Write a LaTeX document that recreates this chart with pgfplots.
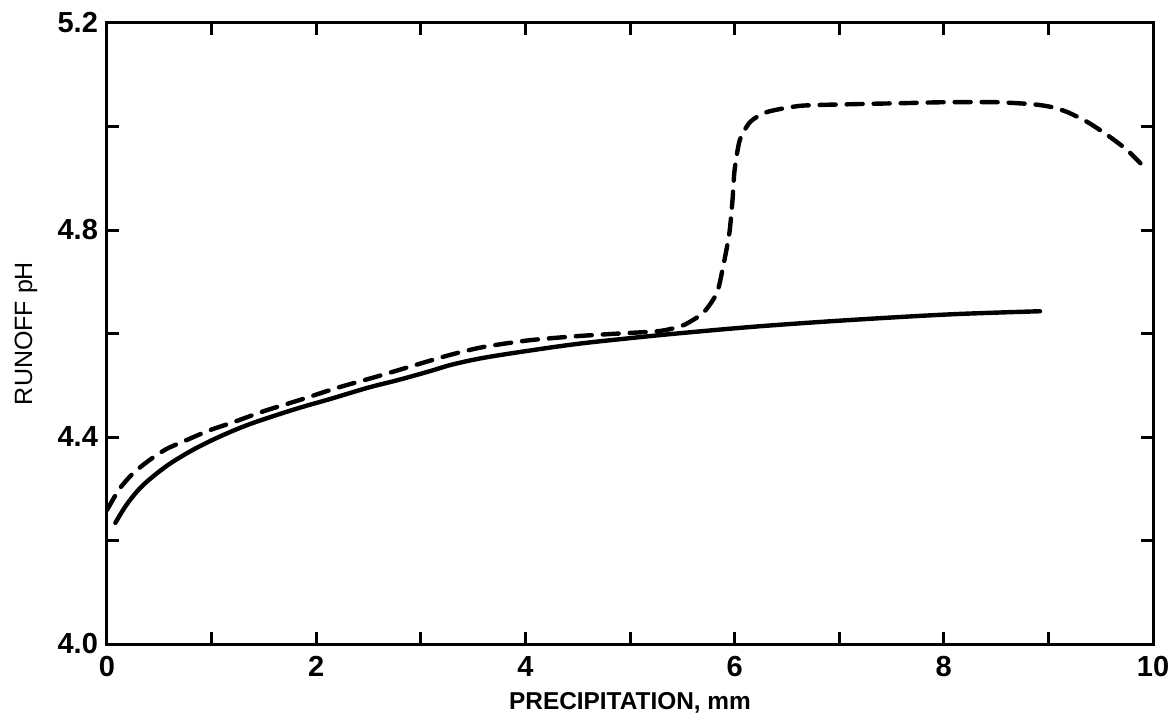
\documentclass[border=0pt]{standalone}
\usepackage{pgfplots}
\pgfplotsset{compat=1.18}
\usepackage{fontspec}
\setmainfont{Liberation Sans}
\begin{document}
\begin{tikzpicture}
\useasboundingbox (-53.5pt,-40pt) rectangle (533pt,322pt);
\begin{axis}[
  scale only axis,
  width=523pt, height=310.5pt,
  xmin=0, xmax=10, ymin=4.0, ymax=5.2,
  xtick={0,2,4,6,8,10},
  minor xtick={1,3,5,7,9},
  ytick={4.0,4.4,4.8,5.2},
  minor ytick={4.2,4.6,5.0},
  yticklabel style={/pgf/number format/fixed, /pgf/number format/fixed zerofill, /pgf/number format/precision=1},
  /pgf/number format/assume math mode=true,
  tick align=inside,
  major tick length=6pt, minor tick length=6pt,
  every tick/.style={line width=1.5pt, black},
  axis line style={line width=1.5pt},
  tick label style={font=\fontsize{14.5}{17}\selectfont\bfseries},
  xticklabel style={yshift=-2.5pt},
  yticklabel style={xshift=-1pt},
  xlabel={\fontsize{12.2}{15}\selectfont\bfseries PRECIPITATION, mm},
  xlabel style={yshift=-1pt},
]
\addplot[black, line width=2.2pt, line cap=round, smooth, tension=0.55] coordinates {
(0.08,4.234) (0.19,4.270) (0.34,4.306) (0.57,4.344) (0.82,4.375) (1.08,4.401)
(1.34,4.423) (1.6,4.441) (1.85,4.457) (2.16,4.475) (2.49,4.495) (2.8,4.511)
(3.1,4.528) (3.3,4.540) (3.6,4.553) (4.04,4.567) (4.5,4.580) (5.0,4.591)
(5.5,4.601) (6.24,4.614) (7.10,4.626) (8.06,4.637) (8.92,4.643)
};
\addplot[black, line width=2.2pt, line cap=round, dash pattern=on 8pt off 5.5pt, smooth, tension=0.4] coordinates {
(0.0,4.259) (0.12,4.300) (0.25,4.330) (0.41,4.356) (0.57,4.377) (0.76,4.394)
(0.98,4.413) (1.2,4.428) (1.5,4.450) (1.85,4.472) (2.2,4.495) (2.6,4.518)
(3.25,4.557) (3.6,4.574) (4.04,4.587) (4.5,4.595) (4.9,4.600) (5.29,4.605)
(5.51,4.616) (5.70,4.640) (5.83,4.678) (5.89,4.729) (5.95,4.794) (5.98,4.858)
(6.0,4.916) (6.05,4.974) (6.15,5.009) (6.31,5.028) (6.63,5.040) (7.10,5.043)
(7.58,5.045) (8.03,5.047) (8.5,5.047) (8.85,5.043) (9.02,5.038) (9.18,5.028)
(9.37,5.009) (9.56,4.984) (9.75,4.955) (9.88,4.929)
};
\end{axis}
\node[rotate=90, font=\fontsize{12.5}{15}\selectfont] at (-40.5pt,155.25pt) {RUNOFF pH};
\end{tikzpicture}
\end{document}
